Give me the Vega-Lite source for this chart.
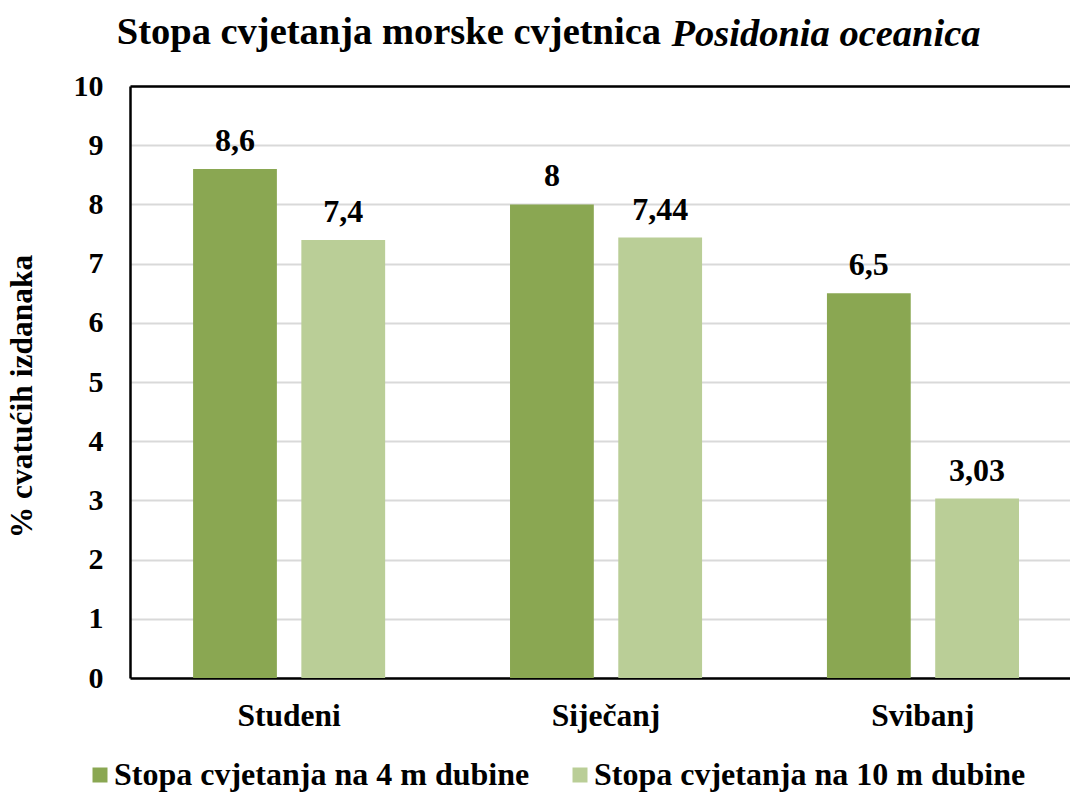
{
  "$schema": "https://vega.github.io/schema/vega-lite/v6.json",
  "width": 940,
  "height": 592,
  "autosize": {"type": "none"},
  "padding": {"left": 130, "top": 86, "right": 0, "bottom": 114},
  "title": {
    "text": "Stopa cvjetanja morske cvjetnica",
    "anchor": "start",
    "frame": "group",
    "align": "right",
    "dx": 531,
    "offset": -38,
    "font": "Liberation Serif",
    "fontSize": 38.5,
    "fontWeight": "bold",
    "color": "#000000"
  },
  "data": {
    "values": [
      {"mjesec": "Studeni", "serija": "Stopa cvjetanja na 4 m dubine", "vrijednost": 8.6},
      {"mjesec": "Studeni", "serija": "Stopa cvjetanja na 10 m dubine", "vrijednost": 7.4},
      {"mjesec": "Siječanj", "serija": "Stopa cvjetanja na 4 m dubine", "vrijednost": 8},
      {"mjesec": "Siječanj", "serija": "Stopa cvjetanja na 10 m dubine", "vrijednost": 7.44},
      {"mjesec": "Svibanj", "serija": "Stopa cvjetanja na 4 m dubine", "vrijednost": 6.5},
      {"mjesec": "Svibanj", "serija": "Stopa cvjetanja na 10 m dubine", "vrijednost": 3.03}
    ]
  },
  "layer": [
    {
      "mark": {"type": "bar"},
      "encoding": {
        "x": {
          "field": "mjesec", "type": "nominal",
          "sort": ["Studeni", "Siječanj", "Svibanj"],
          "scale": {"paddingInner": 0.394, "paddingOuter": 0.18, "align": 0.553},
          "axis": {
            "orient": "bottom", "title": null, "labelAngle": 0,
            "labelFont": "Liberation Serif", "labelFontSize": 31.5, "labelFontWeight": "bold", "labelColor": "#000000",
            "labelBaseline": "alphabetic", "labelPadding": 47,
            "ticks": false, "tickSize": 0,
            "domain": true, "domainColor": "#000000", "domainWidth": 2.5,
            "grid": false
          }
        },
        "xOffset": {
          "field": "serija", "type": "nominal",
          "sort": ["Stopa cvjetanja na 4 m dubine", "Stopa cvjetanja na 10 m dubine"],
          "scale": {"paddingInner": 0.226, "paddingOuter": 0}
        },
        "y": {
          "field": "vrijednost", "type": "quantitative",
          "scale": {"domain": [0, 10], "nice": false},
          "axis": {
            "title": "% cvatućih izdanaka",
            "values": [0, 1, 2, 3, 4, 5, 6, 7, 8, 9, 10],
            "format": "d",
            "labelFont": "Liberation Serif", "labelFontSize": 30, "labelFontWeight": "bold", "labelColor": "#000000",
            "labelPadding": 27, "ticks": false, "tickSize": 0,
            "titleFont": "Liberation Serif", "titleFontSize": 31.5, "titleFontWeight": "bold", "titleColor": "#000000",
            "titlePadding": 35, "titleY": 310,
            "domain": true, "domainColor": "#000000", "domainWidth": 2.5,
            "grid": true, "gridColor": "#D9D9D9", "gridWidth": 1.8
          }
        },
        "color": {
          "field": "serija", "type": "nominal",
          "scale": {
            "domain": ["Stopa cvjetanja na 4 m dubine", "Stopa cvjetanja na 10 m dubine"],
            "range": ["#8AA752", "#BACE97"]
          },
          "legend": {
            "orient": "none", "direction": "horizontal", "title": null,
            "legendX": -46, "legendY": 673,
            "padding": 0,
            "symbolType": "square", "symbolSize": 225, "symbolStrokeWidth": 0,
            "labelFont": "Liberation Serif", "labelFontSize": 32, "labelFontWeight": "bold", "labelColor": "#000000",
            "labelOffset": -2, "columnPadding": 34, "labelLimit": 600
          }
        }
      }
    },
    {
      "mark": {
        "type": "text", "baseline": "alphabetic", "dy": -18,
        "font": "Liberation Serif", "fontSize": 32, "fontWeight": "bold", "color": "#000000"
      },
      "encoding": {
        "x": {
          "field": "mjesec", "type": "nominal",
          "sort": ["Studeni", "Siječanj", "Svibanj"],
          "axis": {
            "orient": "top", "labels": false, "ticks": false, "tickSize": 0, "grid": false,
            "domain": true, "domainColor": "#000000", "domainWidth": 2.5,
            "title": "Posidonia oceanica",
            "titleFont": "Liberation Serif", "titleFontSize": 38.5, "titleFontWeight": "bold", "titleFontStyle": "italic",
            "titleColor": "#000000", "titleAlign": "left", "titleX": 541, "titleBaseline": "alphabetic",
            "titlePadding": 41
          }
        },
        "xOffset": {
          "field": "serija", "type": "nominal",
          "sort": ["Stopa cvjetanja na 4 m dubine", "Stopa cvjetanja na 10 m dubine"]
        },
        "y": {"field": "vrijednost", "type": "quantitative", "title": "% cvatućih izdanaka"},
        "text": {"field": "vrijednost", "type": "quantitative", "format": ".3~g"}
      }
    }
  ],
  "resolve": {"axis": {"x": "independent"}},
  "config": {
    "view": {"stroke": null},
    "locale": {
      "number": {"decimal": ",", "thousands": ".", "grouping": [3], "currency": ["", " €"]}
    }
  }
}
